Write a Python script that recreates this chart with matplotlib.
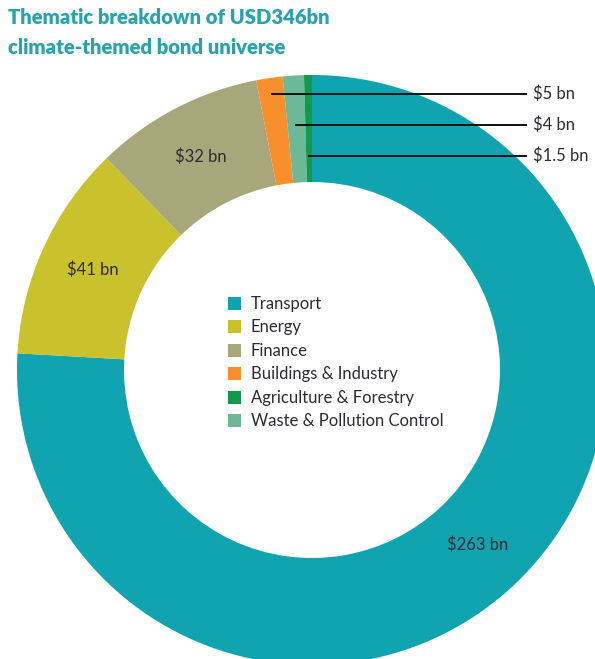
import numpy as np
import matplotlib.pyplot as plt

# USD bn per theme, in the order the ring is drawn (clockwise from 12 o'clock)
themes = ["Transport", "Energy", "Finance", "Buildings & Industry",
          "Waste & Pollution Control", "Agriculture & Forestry"]
values = [263, 41, 32, 5, 4, 1.5]
value_labels = ["$263 bn", "$41 bn", "$32 bn", "$5 bn", "$4 bn", "$1.5 bn"]
colors = ["#10a3b0", "#c9c22c", "#a8a67b", "#f7902c", "#6db899", "#12994b"]

legend_order = ["Transport", "Energy", "Finance", "Buildings & Industry",
                "Agriculture & Forestry", "Waste & Pollution Control"]

W, H = 595, 659
fig = plt.figure(figsize=(W / 100, H / 100), dpi=100)
ax = fig.add_axes([0, 0, 1, 1])

cx, cy = 312, H - 370
R_out, R_in = 295, 188

wedges, _ = ax.pie(values, colors=colors, startangle=90, counterclock=False,
                   center=(cx, cy), radius=R_out,
                   wedgeprops=dict(width=R_out - R_in, linewidth=0))

ax.set_xlim(0, W)
ax.set_ylim(0, H)
ax.set_aspect("equal")
ax.axis("off")

txt = "#2f2a33"
font = "Lato"

# labels inside the big slices
for w, lab in zip(wedges[:3], value_labels[:3]):
    a = np.radians((w.theta1 + w.theta2) / 2)
    r = 241
    ax.text(cx + r * np.cos(a), cy + r * np.sin(a), lab, ha="center", va="center",
            fontsize=12, color=txt, family=font)

# leader lines for the thin slices
line_y = [H - 94, H - 125, H - 156]
for w, lab, y in zip(wedges[3:], value_labels[3:], line_y):
    a = np.radians((w.theta1 + w.theta2) / 2)
    r = (y - cy) / np.sin(a)
    x0 = cx + r * np.cos(a)
    ax.plot([x0, 526], [y, y], color="#111111", lw=1.4)
    ax.text(533, y, lab, ha="left", va="center", fontsize=12, color=txt, family=font)

# legend in the hole
by_name = dict(zip(themes, wedges))
handles = [by_name[n] for n in legend_order]
leg = ax.legend(handles, legend_order, loc="upper left", frameon=False,
                bbox_to_anchor=(228 / W, 1 - 296 / H), bbox_transform=fig.transFigure,
                borderpad=0, borderaxespad=0,
                handlelength=0.8, handleheight=0.8, handletextpad=0.55,
                labelspacing=0.45, prop={"family": font, "size": 12})
for t in leg.get_texts():
    t.set_color(txt)

fig.text(8 / W, 1 - 18 / H, "Thematic breakdown of USD346bn", ha="left", va="center",
         fontsize=14.6, fontweight="heavy", color="#27a3ad", family=font)
fig.text(8 / W, 1 - 47 / H, "climate-themed bond universe", ha="left", va="center",
         fontsize=14.6, fontweight="heavy", color="#27a3ad", family=font)

fig.savefig("out.png", dpi=100, facecolor="white")
